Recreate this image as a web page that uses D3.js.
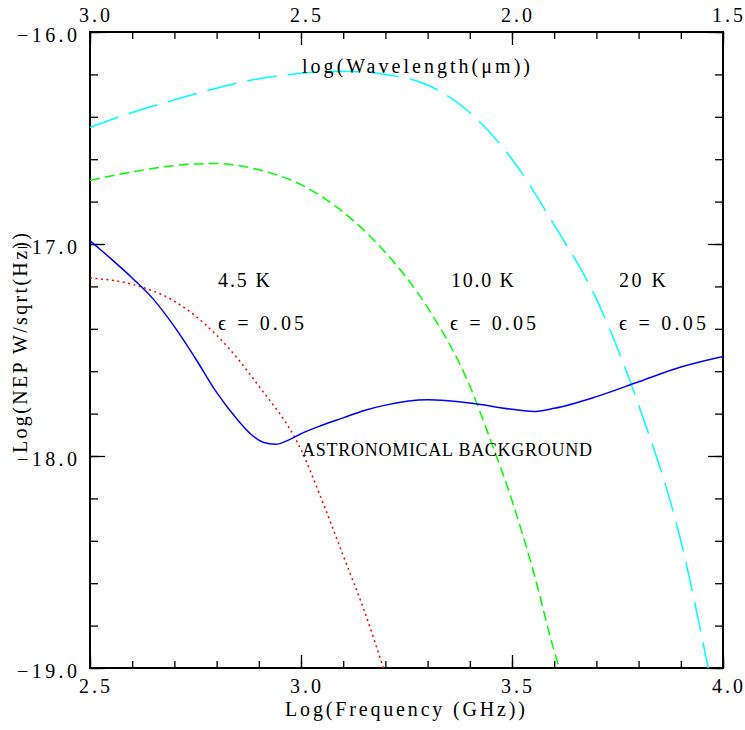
<!DOCTYPE html>
<html>
<head>
<meta charset="utf-8">
<script src="https://cdn.jsdelivr.net/npm/d3@7"></script>
<style>
  body { margin: 0; background: #fff; }
  text { font-family: "Liberation Serif", "Times New Roman", serif; font-size: 20px; fill: #000; }
</style>
</head>
<body>
<div id="plot"></div>
<script>
var margin = {top: 32, right: 22, bottom: 62, left: 90},
    width = 745 - margin.left - margin.right,
    height = 730 - margin.top - margin.bottom;

// tick values
var freqMajor = [2.5, 3.0, 3.5, 4.0];
var freqMinor = d3.range(25, 41).map(function(d){ return d / 10; });
var waveMajor = [3.0, 2.5, 2.0, 1.5];
var waveMinor = d3.range(15, 31).map(function(d){ return d / 10; });
var nepMajor = [-19, -18, -17, -16];
var nepMinor = d3.range(-95, -79).map(function(d){ return d / 5; });

// astronomical background (solid blue)
var bgFreq = [2.5, 2.55, 2.6, 2.65, 2.7, 2.75, 2.8, 2.85, 2.88, 2.91, 2.94, 2.97, 3.0, 3.05, 3.1, 3.15, 3.2, 3.3, 3.4, 3.5, 3.55, 3.6, 3.7, 3.8, 3.9, 4.0];
var bgNep  = [-16.985, -17.07, -17.16, -17.26, -17.39, -17.54, -17.70, -17.83, -17.895, -17.935, -17.945, -17.925, -17.895, -17.855, -17.82, -17.785, -17.76, -17.735, -17.75, -17.78, -17.79, -17.775, -17.72, -17.65, -17.58, -17.53];

// 4.5 K, eps 0.05 (red dotted)
var k45Freq = [2.5, 2.6, 2.7, 2.8, 2.9, 3.0, 3.05, 3.1, 3.15, 3.2];
var k45Nep  = [-17.16, -17.19, -17.27, -17.43, -17.67, -17.97, -18.21, -18.47, -18.73, -19.03];

// 10.0 K, eps 0.05 (green dashed)
var k10Freq = [2.5, 2.6, 2.7, 2.8, 2.9, 3.0, 3.1, 3.2, 3.3, 3.4, 3.45, 3.5, 3.55, 3.6, 3.62];
var k10Nep  = [-16.70, -16.66, -16.63, -16.62, -16.65, -16.72, -16.85, -17.04, -17.30, -17.67, -17.93, -18.21, -18.54, -18.92, -19.05];

// 20 K, eps 0.05 (cyan long dash)
var k20Freq = [2.5, 2.6, 2.7, 2.8, 2.9, 3.0, 3.1, 3.2, 3.3, 3.4, 3.5, 3.6, 3.7, 3.8, 3.9, 3.97];
var k20Nep  = [-16.45, -16.38, -16.32, -16.265, -16.22, -16.195, -16.185, -16.20, -16.25, -16.38, -16.60, -16.91, -17.26, -17.76, -18.40, -19.05];

var svg = d3.select("#plot")
  .append("svg")
    .attr("width", width + margin.left + margin.right)
    .attr("height", height + margin.top + margin.bottom)
  .append("g")
    .attr("transform", "translate(" + margin.left + "," + margin.top + ")");

var x = d3.scaleLinear().domain([2.5, 4.0]).range([0, width]);
var xTop = d3.scaleLinear().domain([3.0, 1.5]).range([0, width]);
var y = d3.scaleLinear().domain([-19, -16]).range([height, 0]);

var fmt = d3.format(".1f");

function cleanAxis(g) {
  g.select(".domain").remove();
  g.attr("font-size", null).attr("font-family", null);
  g.selectAll(".tick line").attr("stroke", "#000").attr("stroke-width", 1.3);
}

// minor ticks
svg.append("g").attr("transform", "translate(0," + height + ")")
  .call(d3.axisBottom(x).tickValues(freqMinor).tickSize(-7).tickFormat(""))
  .call(cleanAxis);
svg.append("g")
  .call(d3.axisTop(xTop).tickValues(waveMinor).tickSize(-7).tickFormat(""))
  .call(cleanAxis);
svg.append("g")
  .call(d3.axisLeft(y).tickValues(nepMinor).tickSize(-8).tickFormat(""))
  .call(cleanAxis);
svg.append("g").attr("transform", "translate(" + width + ",0)")
  .call(d3.axisRight(y).tickValues(nepMinor).tickSize(-8).tickFormat(""))
  .call(cleanAxis);

// major ticks and labels
svg.append("g").attr("transform", "translate(0," + height + ")")
  .call(d3.axisBottom(x).tickValues(freqMajor).tickSize(-13).tickFormat(fmt))
  .call(cleanAxis)
  .selectAll("text")
    .attr("y", 25).attr("dy", 0).attr("dx", 4)
    .attr("textLength", 31).attr("lengthAdjust", "spacing");

svg.append("g")
  .call(d3.axisTop(xTop).tickValues(waveMajor).tickSize(-13).tickFormat(fmt))
  .call(cleanAxis)
  .selectAll("text")
    .attr("y", -10).attr("dy", 0).attr("dx", 4)
    .attr("textLength", 31).attr("lengthAdjust", "spacing");

svg.append("g")
  .call(d3.axisLeft(y).tickValues(nepMajor).tickSize(-15).tickFormat(fmt))
  .call(cleanAxis)
  .selectAll("text")
    .attr("x", -13).attr("dy", 0).attr("y", 9)
    .attr("textLength", 60).attr("lengthAdjust", "spacing");

svg.append("g").attr("transform", "translate(" + width + ",0)")
  .call(d3.axisRight(y).tickValues(nepMajor).tickSize(-15).tickFormat(""))
  .call(cleanAxis);

// frame
svg.append("rect")
  .attr("width", width).attr("height", height)
  .attr("fill", "none").attr("stroke", "#000").attr("stroke-width", 2);

// curves
svg.append("clipPath").attr("id", "clip")
  .append("rect").attr("width", width).attr("height", height);

var line = d3.line()
  .x(function(d){ return x(d[0]); })
  .y(function(d){ return y(d[1]); })
  .curve(d3.curveMonotoneX);

function curve(xs, ys, color, dash) {
  svg.append("path")
    .datum(d3.zip(xs, ys))
    .attr("clip-path", "url(#clip)")
    .attr("fill", "none")
    .attr("stroke", color)
    .attr("stroke-width", 1.5)
    .attr("stroke-dasharray", dash)
    .attr("d", line);
}

curve(k20Freq, k20Nep, "#00ffff", "30,11");
curve(k10Freq, k10Nep, "#00ff00", "10,5");
curve(k45Freq, k45Nep, "#ff0000", "2,3.5");
curve(bgFreq, bgNep, "#0000ff", null);

// labels
function label(txt, px, py, len, size) {
  svg.append("text")
    .attr("x", px - margin.left).attr("y", py - margin.top)
    .attr("textLength", len).attr("lengthAdjust", "spacing")
    .style("font-size", size ? size + "px" : null)
    .text(txt);
}

label("4.5 K", 218, 287, 52);
label("\u03f5 = 0.05", 218, 330, 86);
label("10.0 K", 451, 287, 63);
label("\u03f5 = 0.05", 450, 330, 86);
label("20 K", 619, 287, 47);
label("\u03f5 = 0.05", 619, 330, 87);
label("ASTRONOMICAL BACKGROUND", 302, 456, 290, 18);
label("log(Wavelength(\u03bcm))", 302, 73, 228);
label("Log(Frequency (GHz))", 285, 716, 240);

svg.append("text")
  .attr("transform", "translate(" + (27 - margin.left) + "," + (343 - margin.top) + ") rotate(-90)")
  .attr("text-anchor", "middle")
  .attr("textLength", 220).attr("lengthAdjust", "spacing")
  .text("Log(NEP W/sqrt(Hz))");
</script>
</body>
</html>
